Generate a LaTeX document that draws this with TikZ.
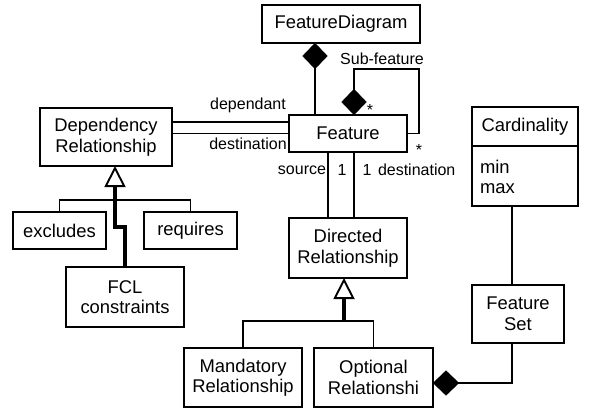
\documentclass[tikz,border=0pt]{standalone}
\usepackage{fontspec}
\setmainfont{Liberation Sans}
\usetikzlibrary{arrows.meta,calc}
\begin{document}
\begin{tikzpicture}[x=1pt,y=-1pt,
  every node/.style={inner sep=0pt, outer sep=0pt},
  box/.style={draw, line width=1.9pt, align=center, font=\fontsize{18.4}{20.5}\selectfont},
  lbl/.style={font=\fontsize{16}{18}\selectfont},
  star/.style={font=\fontsize{16}{18}\selectfont},
  wire/.style={line width=1.9pt},
  gen/.style={line width=3.2pt, -{Triangle[open, length=21pt, width=21pt, line width=1.9pt]}},
  comp/.style={line width=1.9pt, {Diamond[length=26pt, width=25pt, line width=0.1pt]}-},
  compend/.style={line width=1.9pt, -{Diamond[length=26pt, width=25pt, line width=0.1pt]}}
]
\useasboundingbox (0,0) rectangle (597,412);
\fill[white] (0,0) rectangle (597,412);

% classes
\node[box, minimum width=158pt, minimum height=38pt] (fd) at (341,24) {FeatureDiagram};
\node[box, minimum width=118pt, minimum height=37pt] (ft) at (348,133.5) {Feature};
\node[box, minimum width=132pt, minimum height=58pt] (dep) at (106,137) {Dependency\\Relationship};
\node[box, minimum width=93pt, minimum height=37pt] (exc) at (59.5,230.5) {excludes};
\node[box, minimum width=93pt, minimum height=37pt] (req) at (190.5,230.5) {requires};
\node[box, minimum width=118pt, minimum height=60pt] (fcl) at (125,297) {FCL\\constraints};
\node[box, minimum width=118pt, minimum height=60pt] (dr) at (348,248) {Directed\\Relationship};
\node[box, minimum width=118pt, minimum height=59pt] (man) at (243,377.5) {Mandatory\\Relationship};
\node[box, minimum width=119pt, minimum height=59pt] (opt) at (373.5,377.5) {Optional\\Relationshi};
\node[box, minimum width=106pt, minimum height=39pt] (cardt) at (525,126.5) {Cardinality};
\node[box, minimum width=106pt, minimum height=60pt] (carda) at (525,176) {};
\node[box, align=left, draw=none, anchor=west] (cardtxt) at (480,177) {min\\max};
\node[box, minimum width=92pt, minimum height=58pt] (fs) at (518,314) {Feature\\Set};

% composition: diagram owns features
\draw[comp] ([xshift=-26pt]fd.south) -- ([xshift=-26pt]fd.south |- ft.north);
% sub-feature loop
\draw[comp] ([xshift=6pt]ft.north) -- ++(0,-46) -| ([xshift=12pt]ft.east) -- (ft.east);
\node[lbl] (sublbl) at (382,59) {Sub-feature};
\node[star] (s1) at (370,110) {*};
\node[star] (s2) at (419,150) {*};

% dependency relationship ends
\draw[wire] ([yshift=11.5pt]ft.west) -- ([yshift=11.5pt]ft.west -| dep.east);
\draw[wire] (ft.west) -- (ft.west -| dep.east);
\node[lbl] (ldep) at (248,105) {dependant};
\node[lbl] (ldst) at (248,144) {destination};

% directed relationship ends
\draw[wire] ([xshift=-20pt]ft.south) -- ([xshift=-20pt]ft.south |- dr.north);
\draw[wire] ([xshift=6pt]ft.south) -- ([xshift=6pt]ft.south |- dr.north);
\node[lbl] (lsrc) at (302,170) {source};
\node[lbl] (l1a) at (342,170) {1};
\node[lbl] (l1b) at (367,170) {1};
\node[lbl, anchor=west] (ldst2) at (378,170) {destination};

% generalisation of dependency relationships
\draw[wire] (exc.north) -- ++(0,-12) coordinate (b1) -| (req.north);
\draw[gen] (fcl.north) -- ++(0,-40) -| ([xshift=9pt]dep.south);

% generalisation of directed relationships
\draw[wire] (man.north) -- ++(0,-27) coordinate (b2) -| (opt.north);
\draw[gen] ([xshift=-4pt]dr.south |- b2) -- ([xshift=-4pt]dr.south);

% cardinality and feature set
\draw[wire] ([xshift=-13pt]carda.south) -- ([xshift=-13pt]carda.south |- fs.north);
\draw[compend] ([xshift=-6pt]fs.south) |- ([yshift=-5.5pt]opt.east);
\end{tikzpicture}
\end{document}
